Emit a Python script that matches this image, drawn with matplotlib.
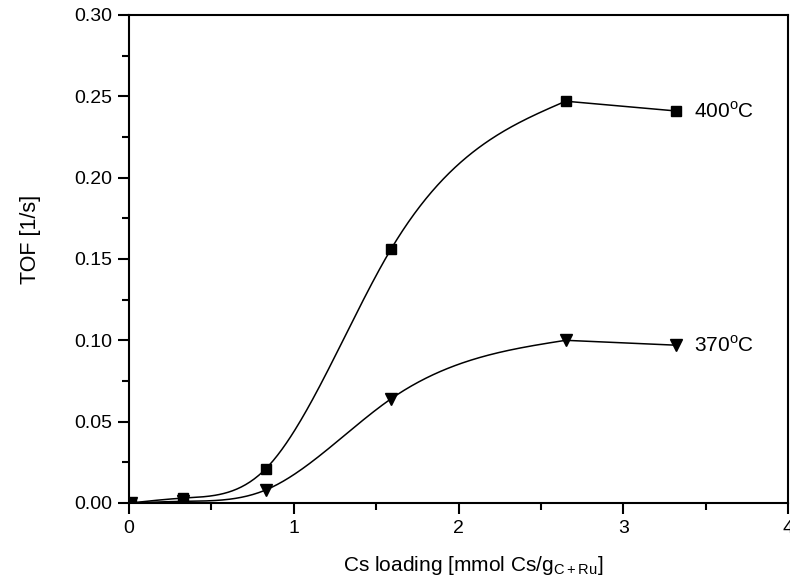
import numpy as np
import matplotlib
matplotlib.use("Agg")
import matplotlib.pyplot as plt
from matplotlib.ticker import MultipleLocator, FormatStrFormatter

plt.rcParams['font.family'] = ['Liberation Sans', 'DejaVu Sans']
plt.rcParams['mathtext.fontset'] = 'custom'
plt.rcParams['mathtext.rm'] = 'Liberation Sans'

cs_loading = [0.01, 0.33, 0.83, 1.59, 2.65, 3.32]
tof_400 = [0.0, 0.003, 0.021, 0.156, 0.247, 0.241]
tof_370 = [0.0, 0.001, 0.008, 0.064, 0.100, 0.097]
labels = [r'400$^{\rm o}$C', r'370$^{\rm o}$C']


def natural_spline(x, y, xn):
    x = np.asarray(x, float); y = np.asarray(y, float)
    n = len(x); h = np.diff(x)
    A = np.zeros((n, n)); b = np.zeros(n)
    A[0, 0] = 1; A[-1, -1] = 1
    for i in range(1, n - 1):
        A[i, i - 1] = h[i - 1]; A[i, i] = 2 * (h[i - 1] + h[i]); A[i, i + 1] = h[i]
        b[i] = 6 * ((y[i + 1] - y[i]) / h[i] - (y[i] - y[i - 1]) / h[i - 1])
    M = np.linalg.solve(A, b)
    idx = np.clip(np.searchsorted(x, xn) - 1, 0, n - 2)
    xi = x[idx]; xi1 = x[idx + 1]; hi = h[idx]
    return (M[idx] * (xi1 - xn) ** 3 / (6 * hi) + M[idx + 1] * (xn - xi) ** 3 / (6 * hi)
            + (y[idx] / hi - M[idx] * hi / 6) * (xi1 - xn)
            + (y[idx + 1] / hi - M[idx + 1] * hi / 6) * (xn - xi))


def curve(x, y):
    # smooth spline up to the maximum, straight segment after it
    k = int(np.argmax(y))
    xa = np.linspace(x[0], x[k], 300)
    ya = natural_spline(x[:k + 1], y[:k + 1], xa)
    return np.concatenate([xa, x[k + 1:]]), np.concatenate([ya, y[k + 1:]])


fig = plt.figure(figsize=(7.9, 5.81), dpi=100)
ax = fig.add_axes([0.1633, 0.1343, 0.8342, 0.8399])

for series, mk, ms, lab in [(tof_400, 's', 7, labels[0]), (tof_370, 'v', 8, labels[1])]:
    cx, cy = curve(cs_loading, series)
    ax.plot(cx, cy, color='black', lw=1.1)
    ax.plot(cs_loading, series, linestyle='none', marker=mk, color='black', markersize=ms)
    ax.text(cs_loading[-1] + 0.11, series[-1], lab, fontsize=15, va='center', ha='left')

ax.set_xlim(0, 4)
ax.set_ylim(0, 0.30)
ax.xaxis.set_major_locator(MultipleLocator(1))
ax.xaxis.set_minor_locator(MultipleLocator(0.5))
ax.yaxis.set_major_locator(MultipleLocator(0.05))
ax.yaxis.set_minor_locator(MultipleLocator(0.025))
ax.yaxis.set_major_formatter(FormatStrFormatter('%.2f'))
ax.tick_params(which='major', direction='out', length=8, width=1.5, labelsize=14, pad=4)
ax.tick_params(which='minor', direction='out', length=5, width=1.5)
for s in ax.spines.values():
    s.set_linewidth(1.5)

ax.set_xlabel(r'Cs loading [mmol Cs/g$_{\rm C+Ru}$]', fontsize=15)
ax.xaxis.set_label_coords(0.522, -0.105)
ax.set_ylabel('TOF [1/s]', fontsize=15.5)
ax.yaxis.set_label_coords(-0.133, 0.54)

fig.savefig('out.png', dpi=100)
